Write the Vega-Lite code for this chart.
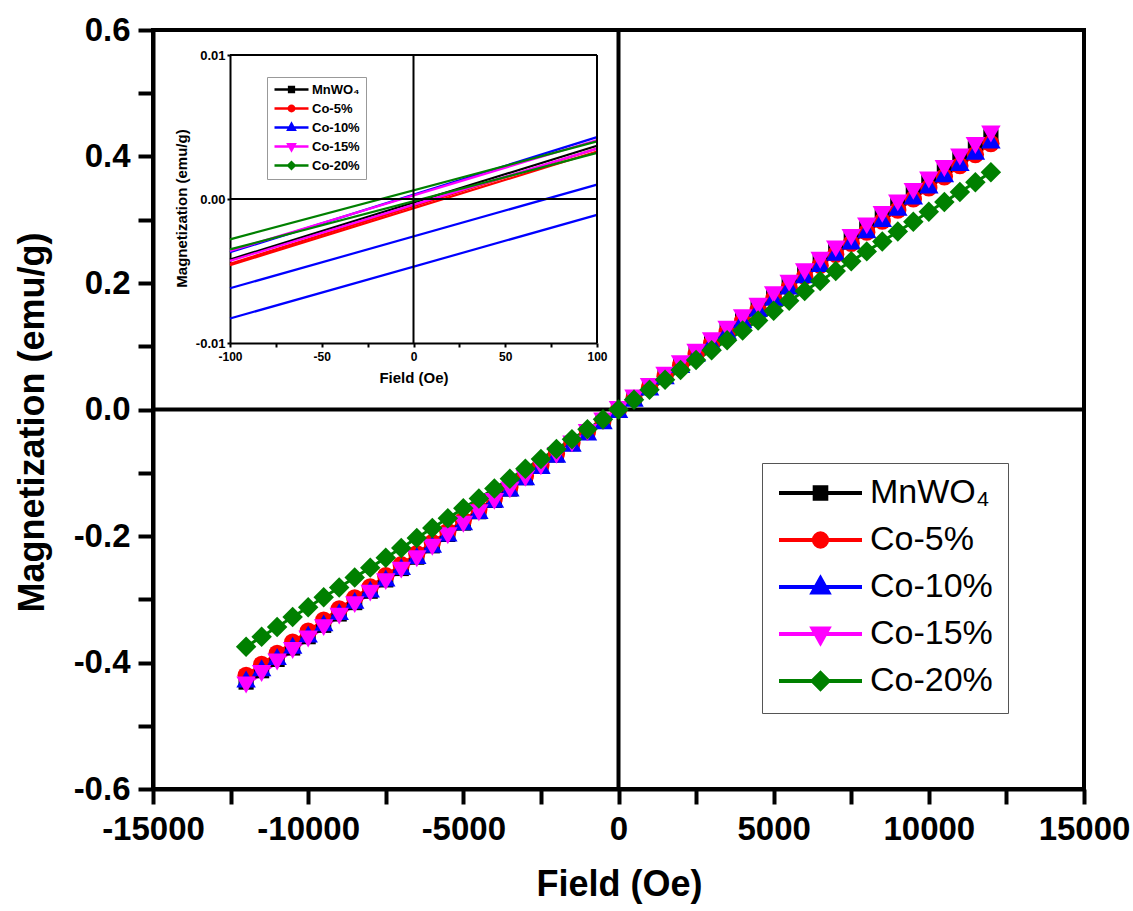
{
  "$schema": "https://vega.github.io/schema/vega-lite/v6.json",
  "width": 931,
  "height": 759,
  "autosize": {"type": "none"},
  "padding": {"left": 153, "top": 30, "right": 49, "bottom": 122},
  "background": "white",
  "config": {"view": {"stroke": "black", "strokeWidth": 4}, "font": "Liberation Sans"},
  "datasets": {
    "main": [
      {"s":"MnWO₄","H":-12000,"M":-0.4310},{"s":"MnWO₄","H":-11500,"M":-0.4130},{"s":"MnWO₄","H":-11000,"M":-0.3951},{"s":"MnWO₄","H":-10500,"M":-0.3771},{"s":"MnWO₄","H":-10000,"M":-0.3592},{"s":"MnWO₄","H":-9500,"M":-0.3412},{"s":"MnWO₄","H":-9000,"M":-0.3233},{"s":"MnWO₄","H":-8500,"M":-0.3053},{"s":"MnWO₄","H":-8000,"M":-0.2873},{"s":"MnWO₄","H":-7500,"M":-0.2694},{"s":"MnWO₄","H":-7000,"M":-0.2514},{"s":"MnWO₄","H":-6500,"M":-0.2335},{"s":"MnWO₄","H":-6000,"M":-0.2155},{"s":"MnWO₄","H":-5500,"M":-0.1975},{"s":"MnWO₄","H":-5000,"M":-0.1796},{"s":"MnWO₄","H":-4500,"M":-0.1616},{"s":"MnWO₄","H":-4000,"M":-0.1437},{"s":"MnWO₄","H":-3500,"M":-0.1257},{"s":"MnWO₄","H":-3000,"M":-0.1078},{"s":"MnWO₄","H":-2500,"M":-0.0898},{"s":"MnWO₄","H":-2000,"M":-0.0718},{"s":"MnWO₄","H":-1500,"M":-0.0539},{"s":"MnWO₄","H":-1000,"M":-0.0359},{"s":"MnWO₄","H":-500,"M":-0.0180},{"s":"MnWO₄","H":0,"M":0},{"s":"MnWO₄","H":500,"M":0.0180},{"s":"MnWO₄","H":1000,"M":0.0359},{"s":"MnWO₄","H":1500,"M":0.0539},{"s":"MnWO₄","H":2000,"M":0.0718},{"s":"MnWO₄","H":2500,"M":0.0898},{"s":"MnWO₄","H":3000,"M":0.1078},{"s":"MnWO₄","H":3500,"M":0.1257},{"s":"MnWO₄","H":4000,"M":0.1437},{"s":"MnWO₄","H":4500,"M":0.1616},{"s":"MnWO₄","H":5000,"M":0.1796},{"s":"MnWO₄","H":5500,"M":0.1975},{"s":"MnWO₄","H":6000,"M":0.2155},{"s":"MnWO₄","H":6500,"M":0.2335},{"s":"MnWO₄","H":7000,"M":0.2514},{"s":"MnWO₄","H":7500,"M":0.2694},{"s":"MnWO₄","H":8000,"M":0.2873},{"s":"MnWO₄","H":8500,"M":0.3053},{"s":"MnWO₄","H":9000,"M":0.3233},{"s":"MnWO₄","H":9500,"M":0.3412},{"s":"MnWO₄","H":10000,"M":0.3592},{"s":"MnWO₄","H":10500,"M":0.3771},{"s":"MnWO₄","H":11000,"M":0.3951},{"s":"MnWO₄","H":11500,"M":0.4130},{"s":"MnWO₄","H":12000,"M":0.4310},
      {"s":"Co-5%","H":-12000,"M":-0.4205},{"s":"Co-5%","H":-11500,"M":-0.4030},{"s":"Co-5%","H":-11000,"M":-0.3855},{"s":"Co-5%","H":-10500,"M":-0.3679},{"s":"Co-5%","H":-10000,"M":-0.3504},{"s":"Co-5%","H":-9500,"M":-0.3329},{"s":"Co-5%","H":-9000,"M":-0.3154},{"s":"Co-5%","H":-8500,"M":-0.2979},{"s":"Co-5%","H":-8000,"M":-0.2803},{"s":"Co-5%","H":-7500,"M":-0.2628},{"s":"Co-5%","H":-7000,"M":-0.2453},{"s":"Co-5%","H":-6500,"M":-0.2278},{"s":"Co-5%","H":-6000,"M":-0.2103},{"s":"Co-5%","H":-5500,"M":-0.1927},{"s":"Co-5%","H":-5000,"M":-0.1752},{"s":"Co-5%","H":-4500,"M":-0.1577},{"s":"Co-5%","H":-4000,"M":-0.1402},{"s":"Co-5%","H":-3500,"M":-0.1226},{"s":"Co-5%","H":-3000,"M":-0.1051},{"s":"Co-5%","H":-2500,"M":-0.0876},{"s":"Co-5%","H":-2000,"M":-0.0701},{"s":"Co-5%","H":-1500,"M":-0.0526},{"s":"Co-5%","H":-1000,"M":-0.0350},{"s":"Co-5%","H":-500,"M":-0.0175},{"s":"Co-5%","H":0,"M":0},{"s":"Co-5%","H":500,"M":0.0175},{"s":"Co-5%","H":1000,"M":0.0350},{"s":"Co-5%","H":1500,"M":0.0526},{"s":"Co-5%","H":2000,"M":0.0701},{"s":"Co-5%","H":2500,"M":0.0876},{"s":"Co-5%","H":3000,"M":0.1051},{"s":"Co-5%","H":3500,"M":0.1226},{"s":"Co-5%","H":4000,"M":0.1402},{"s":"Co-5%","H":4500,"M":0.1577},{"s":"Co-5%","H":5000,"M":0.1752},{"s":"Co-5%","H":5500,"M":0.1927},{"s":"Co-5%","H":6000,"M":0.2103},{"s":"Co-5%","H":6500,"M":0.2278},{"s":"Co-5%","H":7000,"M":0.2453},{"s":"Co-5%","H":7500,"M":0.2628},{"s":"Co-5%","H":8000,"M":0.2803},{"s":"Co-5%","H":8500,"M":0.2979},{"s":"Co-5%","H":9000,"M":0.3154},{"s":"Co-5%","H":9500,"M":0.3329},{"s":"Co-5%","H":10000,"M":0.3504},{"s":"Co-5%","H":10500,"M":0.3679},{"s":"Co-5%","H":11000,"M":0.3855},{"s":"Co-5%","H":11500,"M":0.4030},{"s":"Co-5%","H":12000,"M":0.4205},
      {"s":"Co-10%","H":-12000,"M":-0.4260},{"s":"Co-10%","H":-11500,"M":-0.4083},{"s":"Co-10%","H":-11000,"M":-0.3905},{"s":"Co-10%","H":-10500,"M":-0.3728},{"s":"Co-10%","H":-10000,"M":-0.3550},{"s":"Co-10%","H":-9500,"M":-0.3373},{"s":"Co-10%","H":-9000,"M":-0.3195},{"s":"Co-10%","H":-8500,"M":-0.3018},{"s":"Co-10%","H":-8000,"M":-0.2840},{"s":"Co-10%","H":-7500,"M":-0.2663},{"s":"Co-10%","H":-7000,"M":-0.2485},{"s":"Co-10%","H":-6500,"M":-0.2308},{"s":"Co-10%","H":-6000,"M":-0.2130},{"s":"Co-10%","H":-5500,"M":-0.1953},{"s":"Co-10%","H":-5000,"M":-0.1775},{"s":"Co-10%","H":-4500,"M":-0.1598},{"s":"Co-10%","H":-4000,"M":-0.1420},{"s":"Co-10%","H":-3500,"M":-0.1243},{"s":"Co-10%","H":-3000,"M":-0.1065},{"s":"Co-10%","H":-2500,"M":-0.0888},{"s":"Co-10%","H":-2000,"M":-0.0710},{"s":"Co-10%","H":-1500,"M":-0.0533},{"s":"Co-10%","H":-1000,"M":-0.0355},{"s":"Co-10%","H":-500,"M":-0.0178},{"s":"Co-10%","H":0,"M":0},{"s":"Co-10%","H":500,"M":0.0178},{"s":"Co-10%","H":1000,"M":0.0355},{"s":"Co-10%","H":1500,"M":0.0533},{"s":"Co-10%","H":2000,"M":0.0710},{"s":"Co-10%","H":2500,"M":0.0888},{"s":"Co-10%","H":3000,"M":0.1065},{"s":"Co-10%","H":3500,"M":0.1243},{"s":"Co-10%","H":4000,"M":0.1420},{"s":"Co-10%","H":4500,"M":0.1598},{"s":"Co-10%","H":5000,"M":0.1775},{"s":"Co-10%","H":5500,"M":0.1953},{"s":"Co-10%","H":6000,"M":0.2130},{"s":"Co-10%","H":6500,"M":0.2308},{"s":"Co-10%","H":7000,"M":0.2485},{"s":"Co-10%","H":7500,"M":0.2663},{"s":"Co-10%","H":8000,"M":0.2840},{"s":"Co-10%","H":8500,"M":0.3018},{"s":"Co-10%","H":9000,"M":0.3195},{"s":"Co-10%","H":9500,"M":0.3373},{"s":"Co-10%","H":10000,"M":0.3550},{"s":"Co-10%","H":10500,"M":0.3728},{"s":"Co-10%","H":11000,"M":0.3905},{"s":"Co-10%","H":11500,"M":0.4083},{"s":"Co-10%","H":12000,"M":0.4260},
      {"s":"Co-15%","H":-12000,"M":-0.4355},{"s":"Co-15%","H":-11500,"M":-0.4174},{"s":"Co-15%","H":-11000,"M":-0.3992},{"s":"Co-15%","H":-10500,"M":-0.3811},{"s":"Co-15%","H":-10000,"M":-0.3629},{"s":"Co-15%","H":-9500,"M":-0.3448},{"s":"Co-15%","H":-9000,"M":-0.3266},{"s":"Co-15%","H":-8500,"M":-0.3085},{"s":"Co-15%","H":-8000,"M":-0.2903},{"s":"Co-15%","H":-7500,"M":-0.2722},{"s":"Co-15%","H":-7000,"M":-0.2540},{"s":"Co-15%","H":-6500,"M":-0.2359},{"s":"Co-15%","H":-6000,"M":-0.2178},{"s":"Co-15%","H":-5500,"M":-0.1996},{"s":"Co-15%","H":-5000,"M":-0.1815},{"s":"Co-15%","H":-4500,"M":-0.1633},{"s":"Co-15%","H":-4000,"M":-0.1452},{"s":"Co-15%","H":-3500,"M":-0.1270},{"s":"Co-15%","H":-3000,"M":-0.1089},{"s":"Co-15%","H":-2500,"M":-0.0907},{"s":"Co-15%","H":-2000,"M":-0.0726},{"s":"Co-15%","H":-1500,"M":-0.0544},{"s":"Co-15%","H":-1000,"M":-0.0363},{"s":"Co-15%","H":-500,"M":-0.0181},{"s":"Co-15%","H":0,"M":0},{"s":"Co-15%","H":500,"M":0.0181},{"s":"Co-15%","H":1000,"M":0.0363},{"s":"Co-15%","H":1500,"M":0.0544},{"s":"Co-15%","H":2000,"M":0.0726},{"s":"Co-15%","H":2500,"M":0.0907},{"s":"Co-15%","H":3000,"M":0.1089},{"s":"Co-15%","H":3500,"M":0.1270},{"s":"Co-15%","H":4000,"M":0.1452},{"s":"Co-15%","H":4500,"M":0.1633},{"s":"Co-15%","H":5000,"M":0.1815},{"s":"Co-15%","H":5500,"M":0.1996},{"s":"Co-15%","H":6000,"M":0.2178},{"s":"Co-15%","H":6500,"M":0.2359},{"s":"Co-15%","H":7000,"M":0.2540},{"s":"Co-15%","H":7500,"M":0.2722},{"s":"Co-15%","H":8000,"M":0.2903},{"s":"Co-15%","H":8500,"M":0.3085},{"s":"Co-15%","H":9000,"M":0.3266},{"s":"Co-15%","H":9500,"M":0.3448},{"s":"Co-15%","H":10000,"M":0.3629},{"s":"Co-15%","H":10500,"M":0.3811},{"s":"Co-15%","H":11000,"M":0.3992},{"s":"Co-15%","H":11500,"M":0.4174},{"s":"Co-15%","H":12000,"M":0.4355},
      {"s":"Co-20%","H":-12000,"M":-0.3750},{"s":"Co-20%","H":-11500,"M":-0.3594},{"s":"Co-20%","H":-11000,"M":-0.3438},{"s":"Co-20%","H":-10500,"M":-0.3281},{"s":"Co-20%","H":-10000,"M":-0.3125},{"s":"Co-20%","H":-9500,"M":-0.2969},{"s":"Co-20%","H":-9000,"M":-0.2813},{"s":"Co-20%","H":-8500,"M":-0.2656},{"s":"Co-20%","H":-8000,"M":-0.2500},{"s":"Co-20%","H":-7500,"M":-0.2344},{"s":"Co-20%","H":-7000,"M":-0.2188},{"s":"Co-20%","H":-6500,"M":-0.2031},{"s":"Co-20%","H":-6000,"M":-0.1875},{"s":"Co-20%","H":-5500,"M":-0.1719},{"s":"Co-20%","H":-5000,"M":-0.1563},{"s":"Co-20%","H":-4500,"M":-0.1406},{"s":"Co-20%","H":-4000,"M":-0.1250},{"s":"Co-20%","H":-3500,"M":-0.1094},{"s":"Co-20%","H":-3000,"M":-0.0938},{"s":"Co-20%","H":-2500,"M":-0.0781},{"s":"Co-20%","H":-2000,"M":-0.0625},{"s":"Co-20%","H":-1500,"M":-0.0469},{"s":"Co-20%","H":-1000,"M":-0.0313},{"s":"Co-20%","H":-500,"M":-0.0156},{"s":"Co-20%","H":0,"M":0},{"s":"Co-20%","H":500,"M":0.0156},{"s":"Co-20%","H":1000,"M":0.0313},{"s":"Co-20%","H":1500,"M":0.0469},{"s":"Co-20%","H":2000,"M":0.0625},{"s":"Co-20%","H":2500,"M":0.0781},{"s":"Co-20%","H":3000,"M":0.0938},{"s":"Co-20%","H":3500,"M":0.1094},{"s":"Co-20%","H":4000,"M":0.1250},{"s":"Co-20%","H":4500,"M":0.1406},{"s":"Co-20%","H":5000,"M":0.1563},{"s":"Co-20%","H":5500,"M":0.1719},{"s":"Co-20%","H":6000,"M":0.1875},{"s":"Co-20%","H":6500,"M":0.2031},{"s":"Co-20%","H":7000,"M":0.2188},{"s":"Co-20%","H":7500,"M":0.2344},{"s":"Co-20%","H":8000,"M":0.2500},{"s":"Co-20%","H":8500,"M":0.2656},{"s":"Co-20%","H":9000,"M":0.2813},{"s":"Co-20%","H":9500,"M":0.2969},{"s":"Co-20%","H":10000,"M":0.3125},{"s":"Co-20%","H":10500,"M":0.3281},{"s":"Co-20%","H":11000,"M":0.3438},{"s":"Co-20%","H":11500,"M":0.3594},{"s":"Co-20%","H":12000,"M":0.3750}
    ],
    "inset": [
      {"s":"MnWO₄","b":"k1","H":-100,"M":-0.0042},{"s":"MnWO₄","b":"k1","H":100,"M":0.0037},
      {"s":"Co-5%","b":"r1","H":-100,"M":-0.0045},{"s":"Co-5%","b":"r1","H":100,"M":0.0035},
      {"s":"Co-5%","b":"r2","H":-100,"M":-0.0046},{"s":"Co-5%","b":"r2","H":100,"M":0.0033},
      {"s":"Co-10%","b":"b1","H":-100,"M":-0.0062},{"s":"Co-10%","b":"b1","H":100,"M":0.0010},
      {"s":"Co-10%","b":"b2","H":-100,"M":-0.0083},{"s":"Co-10%","b":"b2","H":100,"M":-0.0011},
      {"s":"Co-10%","b":"b3","H":-100,"M":-0.0037},{"s":"Co-10%","b":"b3","H":100,"M":0.0043},
      {"s":"Co-15%","b":"m1","H":-100,"M":-0.0036},{"s":"Co-15%","b":"m1","H":100,"M":0.0041},
      {"s":"Co-15%","b":"m2","H":-100,"M":-0.0043},{"s":"Co-15%","b":"m2","H":100,"M":0.0035},
      {"s":"Co-20%","b":"g1","H":-100,"M":-0.0028},{"s":"Co-20%","b":"g1","H":100,"M":0.0040},
      {"s":"Co-20%","b":"g2","H":-100,"M":-0.0035},{"s":"Co-20%","b":"g2","H":100,"M":0.0032}
    ]
  },
  "resolve": {
    "scale": {"x": "independent", "y": "independent"},
    "axis": {"x": "independent", "y": "independent"},
    "legend": {"fill": "independent", "stroke": "independent", "shape": "independent"}
  },
  "layer": [
    {
      "layer": [
        {
          "data": {"name": "main"},
          "mark": {"type": "line", "strokeWidth": 3},
          "encoding": {
            "x": {"field": "H", "type": "quantitative", "scale": {"domain": [-15000, 15000], "nice": false, "zero": false},
              "axis": {"orient": "bottom", "values": [-15000,-12500,-10000,-7500,-5000,-2500,0,2500,5000,7500,10000,12500,15000],
                "labelExpr": "datum.value % 5000 === 0 ? '' + datum.value : ''",
                "title": "Field (Oe)", "titleFont": "Liberation Sans", "titleFontSize": 36, "titleFontWeight": "bold", "titleColor": "black",
                "titleX": 466, "titleY": 95, "titleBaseline": "middle", "titleAlign": "center",
                "labelFont": "Liberation Sans", "labelFontSize": 33, "labelFontWeight": "bold", "labelColor": "black", "labelPadding": 9,
                "labelFlush": false, "labelOverlap": false, "tickSize": 15, "tickWidth": 4, "tickColor": "black",
                "domainColor": "black", "domainWidth": 4, "grid": false,
                "encode": {"ticks": {"update": {"y2": {"signal": "datum.value % 5000 === 0 ? 15 : 8"}}}}}},
            "y": {"field": "M", "type": "quantitative", "scale": {"domain": [-0.6, 0.6], "nice": false, "zero": false},
              "axis": {"orient": "left", "values": [-0.6,-0.5,-0.4,-0.3,-0.2,-0.1,0,0.1,0.2,0.3,0.4,0.5,0.6],
                "labelExpr": "abs(round(datum.value * 10)) % 2 === 0 ? replace(format(datum.value, '.1f'), '\u2212', '-') : ''",
                "title": "Magnetization (emu/g)", "titleFont": "Liberation Sans", "titleFontSize": 36, "titleFontWeight": "bold", "titleColor": "black",
                "titleX": -121, "titleY": 392, "titleAngle": 270, "titleBaseline": "middle", "titleAlign": "center",
                "labelFont": "Liberation Sans", "labelFontSize": 33, "labelFontWeight": "bold", "labelColor": "black", "labelPadding": 8,
                "labelFlush": false, "labelOverlap": false, "tickSize": 15, "tickWidth": 4, "tickColor": "black",
                "domainColor": "black", "domainWidth": 4, "grid": false,
                "encode": {"ticks": {"update": {"x2": {"signal": "abs(round(datum.value * 10)) % 2 === 0 ? -15 : -8"}}}}}},
            "color": {"field": "s", "type": "nominal", "scale": {"domain": ["MnWO₄","Co-5%","Co-10%","Co-15%","Co-20%"], "range": ["#000000","#ff0000","#0000ff","#ff00ff","#008000"]}, "legend": null}
          }
        },
        {
          "data": {"values": [{}]},
          "mark": {"type": "rule", "color": "black", "strokeWidth": 4},
          "encoding": {
            "x": {"datum": 0, "type": "quantitative", "scale": {"domain": [-15000, 15000], "nice": false, "zero": false}},
            "y": {"datum": -0.6, "type": "quantitative", "scale": {"domain": [-0.6, 0.6], "nice": false, "zero": false}},
            "y2": {"datum": 0.6}
          }
        },
        {
          "data": {"values": [{}]},
          "mark": {"type": "rule", "color": "black", "strokeWidth": 4},
          "encoding": {
            "y": {"datum": 0, "type": "quantitative", "scale": {"domain": [-0.6, 0.6], "nice": false, "zero": false}},
            "x": {"datum": -15000, "type": "quantitative", "scale": {"domain": [-15000, 15000], "nice": false, "zero": false}},
            "x2": {"datum": 15000}
          }
        },
        {
          "data": {"name": "main"},
          "transform": [{"filter": "datum.s === 'MnWO₄'"}],
          "mark": {"type": "point", "shape": "square", "filled": true, "size": 230, "color": "#000000", "opacity": 1},
          "encoding": {
            "x": {"field": "H", "type": "quantitative", "scale": {"domain": [-15000, 15000], "nice": false, "zero": false}},
            "y": {"field": "M", "type": "quantitative", "scale": {"domain": [-0.6, 0.6], "nice": false, "zero": false}}
          }
        },
        {
          "data": {"name": "main"},
          "transform": [{"filter": "datum.s === 'Co-5%'"}],
          "mark": {"type": "point", "shape": "circle", "filled": true, "size": 300, "color": "#ff0000", "opacity": 1},
          "encoding": {
            "x": {"field": "H", "type": "quantitative", "scale": {"domain": [-15000, 15000], "nice": false, "zero": false}},
            "y": {"field": "M", "type": "quantitative", "scale": {"domain": [-0.6, 0.6], "nice": false, "zero": false}}
          }
        },
        {
          "data": {"name": "main"},
          "transform": [{"filter": "datum.s === 'Co-10%'"}],
          "mark": {"type": "point", "shape": "triangle-up", "filled": true, "size": 380, "color": "#0000ff", "opacity": 1},
          "encoding": {
            "x": {"field": "H", "type": "quantitative", "scale": {"domain": [-15000, 15000], "nice": false, "zero": false}},
            "y": {"field": "M", "type": "quantitative", "scale": {"domain": [-0.6, 0.6], "nice": false, "zero": false}}
          }
        },
        {
          "data": {"name": "main"},
          "transform": [{"filter": "datum.s === 'Co-15%'"}],
          "mark": {"type": "point", "shape": "triangle-down", "filled": true, "size": 380, "color": "#ff00ff", "opacity": 1},
          "encoding": {
            "x": {"field": "H", "type": "quantitative", "scale": {"domain": [-15000, 15000], "nice": false, "zero": false}},
            "y": {"field": "M", "type": "quantitative", "scale": {"domain": [-0.6, 0.6], "nice": false, "zero": false}}
          }
        },
        {
          "data": {"name": "main"},
          "transform": [{"filter": "datum.s === 'Co-20%'"}],
          "mark": {"type": "point", "shape": "diamond", "filled": true, "size": 420, "color": "#008000", "opacity": 1},
          "encoding": {
            "x": {"field": "H", "type": "quantitative", "scale": {"domain": [-15000, 15000], "nice": false, "zero": false}},
            "y": {"field": "M", "type": "quantitative", "scale": {"domain": [-0.6, 0.6], "nice": false, "zero": false}}
          }
        },
        {
          "data": {"name": "main"},
          "transform": [{"filter": "datum.H > 100000"}],
          "mark": {"type": "point", "filled": true, "strokeWidth": 4, "opacity": 1},
          "encoding": {
            "x": {"field": "H", "type": "quantitative", "scale": {"domain": [-15000, 15000], "nice": false, "zero": false}},
            "y": {"field": "M", "type": "quantitative", "scale": {"domain": [-0.6, 0.6], "nice": false, "zero": false}},
            "fill": {"field": "s", "type": "nominal", "scale": {"domain": ["MnWO₄","Co-5%","Co-10%","Co-15%","Co-20%"], "range": ["#000000","#ff0000","#0000ff","#ff00ff","#008000"]},
              "legend": {"orient": "none", "legendX": 609, "legendY": 433, "title": null, "padding": 15, "strokeColor": "#555555", "fillColor": "white",
                "symbolSize": 6889, "symbolStrokeWidth": 4, "symbolOpacity": 1, "clipHeight": 30, "rowPadding": 13,
                "labelFont": "Liberation Sans", "labelFontSize": 34, "labelColor": "black", "labelOffset": 6, "labelLimit": 400}},
            "stroke": {"field": "s", "type": "nominal", "scale": {"domain": ["MnWO₄","Co-5%","Co-10%","Co-15%","Co-20%"], "range": ["#000000","#ff0000","#0000ff","#ff00ff","#008000"]},
              "legend": {"orient": "none", "legendX": 609, "legendY": 433, "title": null, "padding": 15, "strokeColor": "#555555", "fillColor": "white",
                "symbolSize": 6889, "symbolStrokeWidth": 4, "symbolOpacity": 1, "clipHeight": 30, "rowPadding": 13,
                "labelFont": "Liberation Sans", "labelFontSize": 34, "labelColor": "black", "labelOffset": 6, "labelLimit": 400}},
            "shape": {"field": "s", "type": "nominal", "scale": {"domain": ["MnWO₄","Co-5%","Co-10%","Co-15%","Co-20%"], "range": [
                "M-1,0L1,0M-0.14,-0.14L0.14,-0.14L0.14,0.14L-0.14,0.14Z",
                "M-1,0L1,0M-0.16,0A0.16,0.16,0,1,0,0.16,0A0.16,0.16,0,1,0,-0.16,0Z",
                "M-1,0L1,0M0,-0.21L-0.19,0.13L0.19,0.13Z",
                "M-1,0L1,0M0,0.21L-0.19,-0.13L0.19,-0.13Z",
                "M-1,0L1,0M-0.19,0L0,-0.19L0.19,0L0,0.19Z"]},
              "legend": {"orient": "none", "legendX": 609, "legendY": 433, "title": null, "padding": 15, "strokeColor": "#555555", "fillColor": "white",
                "symbolSize": 6889, "symbolStrokeWidth": 4, "symbolOpacity": 1, "clipHeight": 30, "rowPadding": 13,
                "labelFont": "Liberation Sans", "labelFontSize": 34, "labelColor": "black", "labelOffset": 6, "labelLimit": 400}}
          }
        }
      ]
    },
    {
      "layer": [
        {
          "data": {"name": "inset"},
          "mark": {"type": "line", "strokeWidth": 2.2},
          "encoding": {
            "x": {"field": "H", "type": "quantitative", "scale": {"domain": [-100, 100], "range": [77, 444], "nice": false, "zero": false},
              "axis": {"orient": "bottom", "offset": -446, "values": [-100,-75,-50,-25,0,25,50,75,100],
                "labelExpr": "datum.value % 50 === 0 ? '' + datum.value : ''",
                "title": "Field (Oe)", "titleFont": "Liberation Sans", "titleFontSize": 15, "titleFontWeight": "bold", "titleColor": "black", "titlePadding": 8,
                "labelFont": "Liberation Sans", "labelFontSize": 12, "labelFontWeight": "bold", "labelColor": "black", "labelPadding": 4,
                "labelFlush": false, "labelOverlap": false, "tickSize": 4, "tickWidth": 2, "tickColor": "black",
                "domainColor": "black", "domainWidth": 2, "grid": false,
                "encode": {"ticks": {"update": {"y2": {"signal": "datum.value % 50 === 0 ? 4 : 3"}}}}}},
            "y": {"field": "M", "type": "quantitative", "scale": {"domain": [-0.01, 0.01], "range": [313, 25], "nice": false, "zero": false},
              "axis": {"orient": "left", "offset": -77, "values": [-0.01, 0, 0.01],
                "labelExpr": "replace(format(datum.value, '.2f'), '\u2212', '-')",
                "title": "Magnetization (emu/g)", "titleFont": "Liberation Sans", "titleFontSize": 15, "titleFontWeight": "bold", "titleColor": "black",
                "titleX": -49, "titleY": 178, "titleAngle": 270, "titleBaseline": "middle", "titleAlign": "center",
                "labelFont": "Liberation Sans", "labelFontSize": 13, "labelFontWeight": "bold", "labelColor": "black", "labelPadding": 2,
                "labelFlush": false, "labelOverlap": false, "tickSize": 3, "tickWidth": 2, "tickColor": "black",
                "domainColor": "black", "domainWidth": 2, "grid": false}},
            "color": {"field": "s", "type": "nominal", "scale": {"domain": ["MnWO₄","Co-5%","Co-10%","Co-15%","Co-20%"], "range": ["#000000","#ff0000","#0000ff","#ff00ff","#008000"]}, "legend": null},
            "detail": {"field": "b", "type": "nominal"}
          }
        },
        {
          "data": {"values": [{}]},
          "mark": {"type": "rule", "color": "black", "strokeWidth": 2},
          "encoding": {
            "x": {"datum": 0, "type": "quantitative", "scale": {"domain": [-100, 100], "range": [77, 444], "nice": false, "zero": false}},
            "y": {"datum": -0.01, "type": "quantitative", "scale": {"domain": [-0.01, 0.01], "range": [313, 25], "nice": false, "zero": false}},
            "y2": {"datum": 0.01}
          }
        },
        {
          "data": {"values": [{}]},
          "mark": {"type": "rule", "color": "black", "strokeWidth": 2},
          "encoding": {
            "y": {"datum": 0, "type": "quantitative", "scale": {"domain": [-0.01, 0.01], "range": [313, 25], "nice": false, "zero": false}},
            "x": {"datum": -100, "type": "quantitative", "scale": {"domain": [-100, 100], "range": [77, 444], "nice": false, "zero": false}},
            "x2": {"datum": 100}
          }
        },
        {
          "data": {"values": [{}]},
          "mark": {"type": "rule", "color": "black", "strokeWidth": 2},
          "encoding": {
            "y": {"datum": 0.01, "type": "quantitative", "scale": {"domain": [-0.01, 0.01], "range": [313, 25], "nice": false, "zero": false}},
            "x": {"datum": -100, "type": "quantitative", "scale": {"domain": [-100, 100], "range": [77, 444], "nice": false, "zero": false}},
            "x2": {"datum": 100}
          }
        },
        {
          "data": {"values": [{}]},
          "mark": {"type": "rule", "color": "black", "strokeWidth": 2},
          "encoding": {
            "x": {"datum": 100, "type": "quantitative", "scale": {"domain": [-100, 100], "range": [77, 444], "nice": false, "zero": false}},
            "y": {"datum": -0.01, "type": "quantitative", "scale": {"domain": [-0.01, 0.01], "range": [313, 25], "nice": false, "zero": false}},
            "y2": {"datum": 0.01}
          }
        },
        {
          "data": {"name": "inset"},
          "transform": [{"filter": "datum.H > 100000"}],
          "mark": {"type": "point", "filled": true, "strokeWidth": 2.5, "opacity": 1},
          "encoding": {
            "x": {"field": "H", "type": "quantitative", "scale": {"domain": [-100, 100], "range": [77, 444], "nice": false, "zero": false}},
            "y": {"field": "M", "type": "quantitative", "scale": {"domain": [-0.01, 0.01], "range": [313, 25], "nice": false, "zero": false}},
            "fill": {"field": "s", "type": "nominal", "scale": {"domain": ["MnWO₄","Co-5%","Co-10%","Co-15%","Co-20%"], "range": ["#000000","#ff0000","#0000ff","#ff00ff","#008000"]},
              "legend": {"orient": "none", "legendX": 114, "legendY": 47, "title": null, "padding": 6, "strokeColor": "#999999", "fillColor": "white",
                "symbolSize": 1156, "symbolStrokeWidth": 2.5, "symbolOpacity": 1, "clipHeight": 13, "rowPadding": 5,
                "labelFont": "Liberation Sans", "labelFontSize": 13, "labelFontWeight": "bold", "labelColor": "black", "labelOffset": 2, "labelLimit": 200}},
            "stroke": {"field": "s", "type": "nominal", "scale": {"domain": ["MnWO₄","Co-5%","Co-10%","Co-15%","Co-20%"], "range": ["#000000","#ff0000","#0000ff","#ff00ff","#008000"]},
              "legend": {"orient": "none", "legendX": 114, "legendY": 47, "title": null, "padding": 6, "strokeColor": "#999999", "fillColor": "white",
                "symbolSize": 1156, "symbolStrokeWidth": 2.5, "symbolOpacity": 1, "clipHeight": 13, "rowPadding": 5,
                "labelFont": "Liberation Sans", "labelFontSize": 13, "labelFontWeight": "bold", "labelColor": "black", "labelOffset": 2, "labelLimit": 200}},
            "shape": {"field": "s", "type": "nominal", "scale": {"domain": ["MnWO₄","Co-5%","Co-10%","Co-15%","Co-20%"], "range": [
                "M-1,0L1,0M-0.14,-0.14L0.14,-0.14L0.14,0.14L-0.14,0.14Z",
                "M-1,0L1,0M-0.16,0A0.16,0.16,0,1,0,0.16,0A0.16,0.16,0,1,0,-0.16,0Z",
                "M-1,0L1,0M0,-0.21L-0.19,0.13L0.19,0.13Z",
                "M-1,0L1,0M0,0.21L-0.19,-0.13L0.19,-0.13Z",
                "M-1,0L1,0M-0.19,0L0,-0.19L0.19,0L0,0.19Z"]},
              "legend": {"orient": "none", "legendX": 114, "legendY": 47, "title": null, "padding": 6, "strokeColor": "#999999", "fillColor": "white",
                "symbolSize": 1156, "symbolStrokeWidth": 2.5, "symbolOpacity": 1, "clipHeight": 13, "rowPadding": 5,
                "labelFont": "Liberation Sans", "labelFontSize": 13, "labelFontWeight": "bold", "labelColor": "black", "labelOffset": 2, "labelLimit": 200}}
          }
        }
      ]
    }
  ]
}
